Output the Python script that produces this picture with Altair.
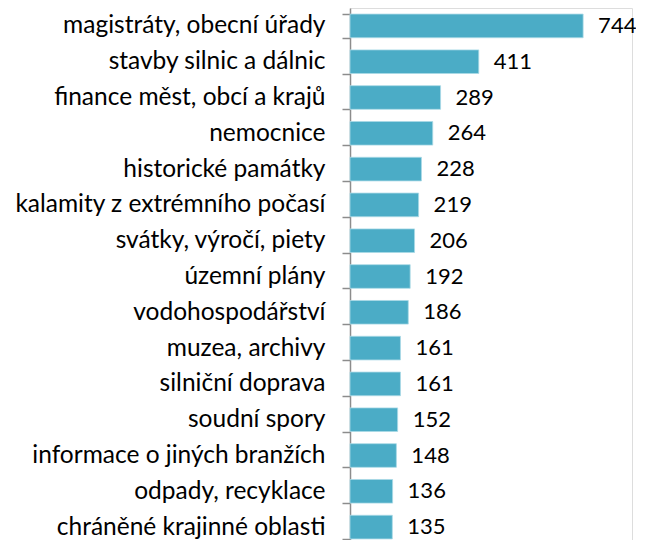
import altair as alt
import pandas as pd

categories = [
    "magistráty, obecní úřady",
    "stavby silnic a dálnic",
    "finance měst, obcí a krajů",
    "nemocnice",
    "historické památky",
    "kalamity z extrémního počasí",
    "svátky, výročí, piety",
    "územní plány",
    "vodohospodářství",
    "muzea, archivy",
    "silniční doprava",
    "soudní spory",
    "informace o jiných branžích",
    "odpady, recyklace",
    "chráněné krajinné oblasti",
]
values = [744, 411, 289, 264, 228, 219, 206, 192, 186, 161, 161, 152, 148, 136, 135]

df = pd.DataFrame({"category": categories, "value": values})

FONT = "Lato"

y = alt.Y(
    "category:N",
    sort=categories,
    title=None,
    scale=alt.Scale(paddingInner=0.34, paddingOuter=0.17),
    axis=alt.Axis(
        labelFont=FONT,
        labelFontSize=24.5,
        labelColor="#000000",
        labelPadding=17,
        tickSize=8,
        tickColor="#8c8c8c",
        domainColor="#8c8c8c",
        domainWidth=1.5,
        tickWidth=1.5,
        tickBand="extent",
        labelLimit=400,
        grid=False,
    ),
)
x = alt.X(
    "value:Q",
    scale=alt.Scale(domain=[0, 900]),
    axis=None,
)

bars = alt.Chart(df).mark_bar(color="#4BACC6", stroke="#A9D9E6", strokeWidth=0.8).encode(x=x, y=y)
labels = alt.Chart(df).mark_text(
    align="left", baseline="middle", dx=15, font=FONT, fontSize=22, color="#000000"
).encode(x=x, y=y, text="value:Q")

chart = (
    (bars + labels)
    .properties(
        width=282,
        height=537,
        padding={"left": 342, "top": 0, "right": 4, "bottom": 0},
        autosize=alt.AutoSizeParams(type="none"),
    )
    .configure_view(stroke=None)
    .configure(background="white")
)

chart.save("out.html", embed_options={"renderer": "svg", "actions": False})
